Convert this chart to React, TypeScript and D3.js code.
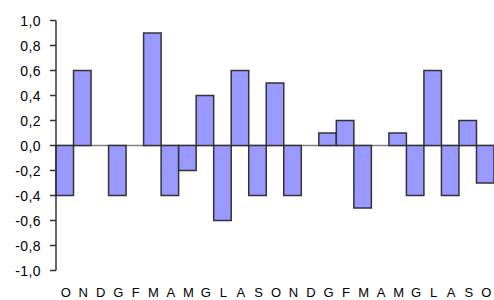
import React from "react";
import * as d3 from "d3";

const categories = ["O","N","D","G","F","M","A","M","G","L","A","S","O","N","D","G","F","M","A","M","G","L","A","S","O"];
const values: (number | null)[] = [-0.4,0.6,null,-0.4,null,0.9,-0.4,-0.2,0.4,-0.6,0.6,-0.4,0.5,-0.4,null,0.1,0.2,-0.5,null,0.1,-0.4,0.6,-0.4,0.2,-0.3];
const yTicks = [-1.0,-0.8,-0.6,-0.4,-0.2,0,0.2,0.4,0.6,0.8,1.0];

const W = 494, H = 300;
const left = 56, right = 494, top = 20.5, bottom = 270.5;

export default function App() {
  const x = d3.scaleBand<number>().domain(d3.range(categories.length)).range([left, right]).padding(0);
  const y = d3.scaleLinear().domain([-1, 1]).range([bottom, top]);
  const fmt = (v: number) => d3.format(".1f")(v).replace(".", ",").replace("−", "-");
  return (
    <svg width={W} height={H} style={{ position: "absolute", left: 0, top: 0 }} fontFamily="Liberation Sans, Arial, sans-serif">
      <line x1={left} x2={right} y1={y(0)} y2={y(0)} stroke="#808080" strokeWidth={1.5} />
      {values.map((v, i) => v === null ? null : (
        <rect key={i} x={x(i)!} width={x.bandwidth()} y={Math.min(y(v), y(0))} height={Math.abs(y(v) - y(0))}
          fill="#9999FF" stroke="#333" strokeWidth={1.5} />
      ))}
      <line x1={left} x2={left} y1={y(1)} y2={y(-1)} stroke="#333" strokeWidth={1.5} />
      {yTicks.map((t, i) => (
        <g key={i}>
          <line x1={left - 6} x2={left} y1={y(t)} y2={y(t)} stroke="#333" strokeWidth={1.5} />
          <text x={41} y={y(t)} dy="0.36em" textAnchor="end" fontSize={14} letterSpacing={0.4} fill="#000">{fmt(t)}</text>
        </g>
      ))}
      {categories.map((c, i) => (
        <text key={i} x={x(i)! + x.bandwidth() / 2 + 1} y={297} textAnchor="middle" fontSize={13} fill="#000">{c}</text>
      ))}
    </svg>
  );
}
